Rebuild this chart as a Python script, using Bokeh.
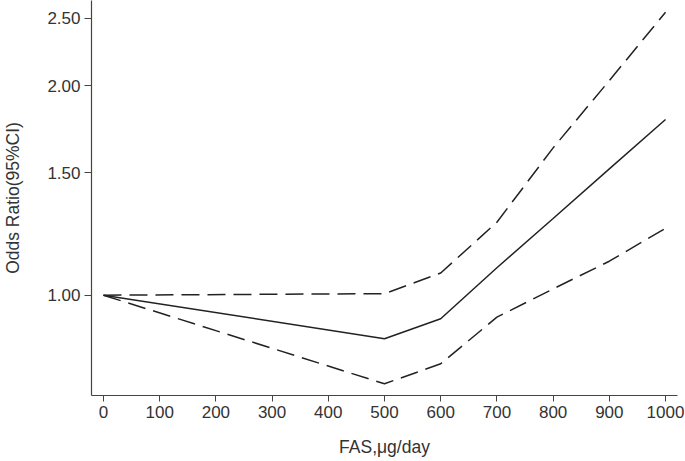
from bokeh.plotting import figure
from bokeh.models import FixedTicker, PrintfTickFormatter, Range1d
from bokeh.embed import file_html
from bokeh.resources import INLINE

# data
fas = [0, 500, 600, 700, 800, 900, 1000]
odds_ratio = [1.0, 0.866, 0.925, 1.095, 1.289, 1.519, 1.788]
ci_upper = [1.0, 1.005, 1.076, 1.273, 1.628, 2.034, 2.55]
ci_lower = [1.0, 0.746, 0.797, 0.930, 1.021, 1.119, 1.248]

x_ticks = [0, 100, 200, 300, 400, 500, 600, 700, 800, 900, 1000]
y_ticks = [1.0, 1.5, 2.0, 2.5]

TXT = "#333333"
LINE = "#222222"
FONT = "Liberation Sans"

p = figure(width=685, height=461, y_axis_type="log",
           x_range=Range1d(-21.3, 1021.3), y_range=Range1d(0.7176, 2.651),
           output_backend="svg", toolbar_location=None,
           min_border_left=89, min_border_right=8, min_border_top=0,
           min_border_bottom=66)
p.outline_line_color = None
p.grid.visible = False
p.background_fill_color = "white"
p.border_fill_color = "white"

p.line(fas, odds_ratio, line_color=LINE, line_width=1.5)
p.line(fas, ci_upper, line_color=LINE, line_width=1.5, line_dash="18 8")
p.line(fas, ci_lower, line_color=LINE, line_width=1.5, line_dash="18 8")

xa = p.xaxis[0]
xa.ticker = FixedTicker(ticks=x_ticks)
xa.axis_label = "FAS,μg/day"
ya = p.yaxis[0]
ya.ticker = FixedTicker(ticks=y_ticks, minor_ticks=[])
ya.formatter = PrintfTickFormatter(format="%.2f")
ya.axis_label = "Odds Ratio(95%CI)"

for ax in (xa, ya):
    ax.axis_line_color = "#444444"
    ax.axis_line_width = 1.2
    ax.major_tick_line_color = "#444444"
    ax.major_tick_in = 0
    ax.minor_tick_line_color = None
    ax.major_label_text_font = FONT
    ax.major_label_text_font_size = "17px"
    ax.major_label_text_color = TXT
    ax.axis_label_text_font = FONT
    ax.axis_label_text_font_size = "17.5px"
    ax.axis_label_text_font_style = "normal"
    ax.axis_label_text_color = TXT

xa.major_tick_out = 6
xa.major_label_standoff = 4
xa.axis_label_standoff = 16
ya.major_tick_out = 7
ya.major_label_standoff = 4
ya.axis_label_standoff = 21

open("out.html", "w").write(file_html(p, INLINE))
